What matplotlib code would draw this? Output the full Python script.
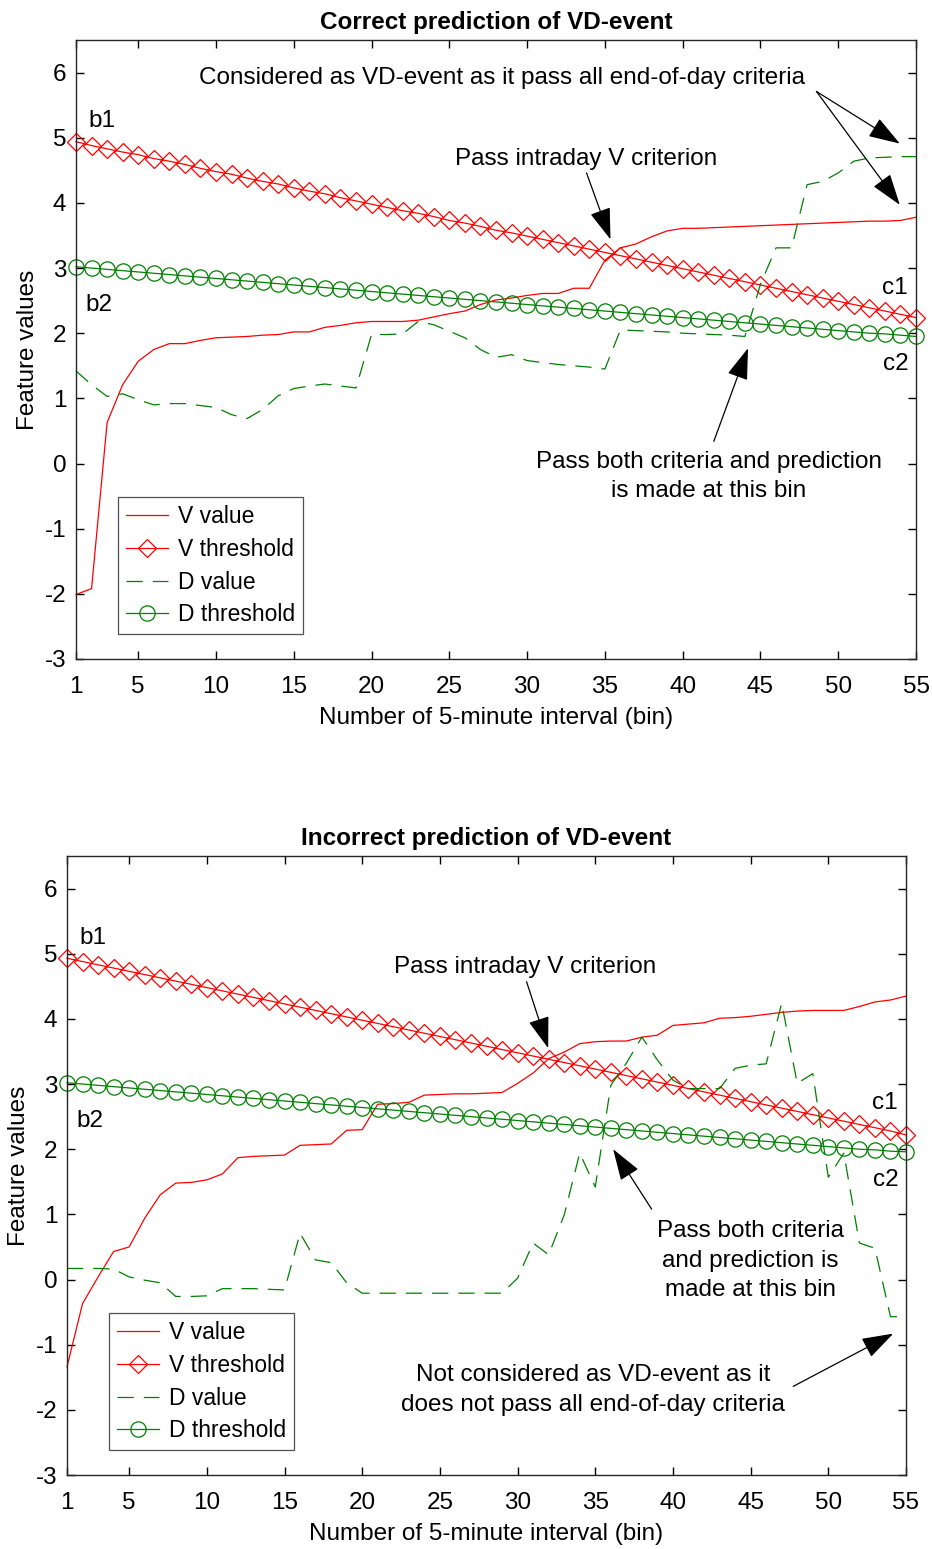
import matplotlib
matplotlib.use("Agg")
import matplotlib.pyplot as plt

plt.rcParams['font.family'] = ['Liberation Sans', 'DejaVu Sans']
plt.rcParams['axes.unicode_minus'] = False

bins = list(range(1, 56))
xticks = [1, 5, 10, 15, 20, 25, 30, 35, 40, 45, 50, 55]
yticks = [-3, -2, -1, 0, 1, 2, 3, 4, 5, 6]

# ---- Top panel: correct prediction ----
top_v_value = [-2.01, -1.92, 0.63, 1.21, 1.57, 1.75, 1.84, 1.84, 1.89, 1.93,
               1.94, 1.95, 1.97, 1.98, 2.02, 2.02, 2.09, 2.12, 2.16, 2.18,
               2.18, 2.18, 2.20, 2.25, 2.30, 2.34, 2.44, 2.51, 2.54, 2.58,
               2.61, 2.61, 2.69, 2.69, 3.12, 3.31, 3.37, 3.48, 3.57, 3.61,
               3.61, 3.62, 3.63, 3.64, 3.65, 3.66, 3.67, 3.68, 3.69, 3.70,
               3.71, 3.72, 3.72, 3.73, 3.78]
top_d_value = [1.42, 1.21, 1.03, 1.07, 0.98, 0.90, 0.92, 0.92, 0.89, 0.86,
               0.75, 0.69, 0.83, 1.04, 1.15, 1.19, 1.22, 1.19, 1.16, 1.98,
               1.98, 1.99, 2.18, 2.13, 2.03, 1.93, 1.75, 1.63, 1.67, 1.58,
               1.55, 1.52, 1.50, 1.48, 1.45, 2.05, 2.04, 2.03, 2.02, 2.00,
               1.99, 1.98, 1.97, 1.95, 2.75, 3.31, 3.31, 4.28, 4.33, 4.46,
               4.64, 4.69, 4.70, 4.71, 4.71]
top_v_thr = [4.94, 4.88, 4.83, 4.78, 4.74, 4.68, 4.64, 4.59, 4.53, 4.48,
             4.44, 4.38, 4.33, 4.29, 4.23, 4.18, 4.14, 4.08, 4.03, 3.98,
             3.93, 3.88, 3.84, 3.79, 3.73, 3.69, 3.64, 3.58, 3.54, 3.49,
             3.44, 3.39, 3.34, 3.29, 3.24, 3.19, 3.14, 3.09, 3.04, 2.99,
             2.94, 2.89, 2.84, 2.79, 2.74, 2.69, 2.64, 2.59, 2.54, 2.49,
             2.44, 2.39, 2.34, 2.29, 2.24]
top_d_thr = [3.02, 3.00, 2.98, 2.96, 2.94, 2.92, 2.90, 2.88, 2.86, 2.84,
             2.82, 2.80, 2.78, 2.76, 2.74, 2.72, 2.70, 2.68, 2.66, 2.64,
             2.62, 2.60, 2.58, 2.56, 2.54, 2.52, 2.50, 2.48, 2.46, 2.44,
             2.42, 2.40, 2.38, 2.36, 2.34, 2.32, 2.30, 2.28, 2.26, 2.24,
             2.22, 2.20, 2.18, 2.16, 2.14, 2.12, 2.10, 2.08, 2.06, 2.04,
             2.02, 2.00, 1.99, 1.97, 1.95]

# ---- Bottom panel: incorrect prediction ----
bot_v_value = [-1.34, -0.37, 0.04, 0.43, 0.50, 0.94, 1.30, 1.48, 1.49, 1.53,
               1.62, 1.87, 1.89, 1.90, 1.91, 2.06, 2.07, 2.08, 2.29, 2.30,
               2.69, 2.70, 2.72, 2.83, 2.84, 2.85, 2.85, 2.86, 2.87, 3.01,
               3.17, 3.39, 3.49, 3.62, 3.65, 3.66, 3.66, 3.72, 3.75, 3.90,
               3.92, 3.94, 4.01, 4.02, 4.04, 4.07, 4.10, 4.12, 4.13, 4.13,
               4.13, 4.19, 4.26, 4.29, 4.35]
bot_d_value = [0.17, 0.17, 0.17, 0.16, 0.04, -0.01, -0.05, -0.26, -0.26, -0.25,
               -0.14, -0.14, -0.14, -0.15, -0.16, 0.71, 0.30, 0.26, -0.05, -0.21,
               -0.21, -0.21, -0.21, -0.21, -0.21, -0.21, -0.21, -0.21, -0.21, 0.02,
               0.56, 0.38, 0.99, 1.94, 1.42, 2.98, 3.32, 3.72, 3.37, 3.06,
               2.93, 2.93, 2.93, 3.24, 3.29, 3.31, 4.24, 3.01, 3.16, 1.57,
               1.94, 0.56, 0.48, -0.57, -0.57]
bot_v_thr = [4.93, 4.88, 4.83, 4.78, 4.73, 4.68, 4.63, 4.58, 4.53, 4.48,
             4.43, 4.38, 4.33, 4.28, 4.23, 4.18, 4.13, 4.08, 4.03, 3.98,
             3.93, 3.88, 3.83, 3.78, 3.73, 3.68, 3.63, 3.58, 3.53, 3.48,
             3.43, 3.38, 3.33, 3.28, 3.23, 3.18, 3.13, 3.08, 3.03, 2.98,
             2.93, 2.88, 2.83, 2.78, 2.73, 2.68, 2.63, 2.58, 2.53, 2.48,
             2.43, 2.38, 2.33, 2.28, 2.22]
bot_d_thr = [3.02, 3.00, 2.98, 2.96, 2.94, 2.92, 2.90, 2.88, 2.86, 2.84,
             2.82, 2.80, 2.78, 2.76, 2.74, 2.72, 2.70, 2.68, 2.66, 2.64,
             2.62, 2.60, 2.58, 2.56, 2.54, 2.52, 2.50, 2.48, 2.46, 2.44,
             2.42, 2.40, 2.38, 2.36, 2.34, 2.32, 2.30, 2.28, 2.26, 2.24,
             2.22, 2.20, 2.18, 2.16, 2.14, 2.12, 2.10, 2.08, 2.06, 2.04,
             2.02, 2.00, 1.99, 1.97, 1.96]

RED = '#ff0000'
GREEN = '#008000'
FS = 17.5

fig = plt.figure(figsize=(9.32, 15.49), dpi=100)
ax1 = fig.add_axes([76/932, 1-659/1549, 840/932, 619/1549])
ax2 = fig.add_axes([67/932, 1-1475/1549, 839/932, 619/1549])


def draw(ax, vv, vt, dv, dt, title):
    ax.plot(bins, vv, color=RED, lw=0.9, label='V value', clip_on=False)
    ax.plot(bins, vt, color=RED, lw=0.9, marker='D', ms=8.8, mfc='none',
            mec=RED, mew=0.9, label='V threshold', clip_on=False)
    ax.plot(bins, dv, color=GREEN, lw=0.9, linestyle=(0, (13, 8)),
            label='D value', clip_on=False)
    ax.plot(bins, dt, color=GREEN, lw=0.9, marker='o', ms=11, mfc='none',
            mec=GREEN, mew=0.9, label='D threshold', clip_on=False)
    ax.set_xlim(1, 55)
    ax.set_ylim(-3, 6.5)
    ax.set_xticks(xticks)
    ax.set_yticks(yticks)
    ax.tick_params(direction='in', length=6, width=1, top=True, right=True,
                   labelsize=FS, pad=7)
    ax.tick_params(axis='x', pad=12)
    for s in ax.spines.values():
        s.set_linewidth(1.0)
        s.set_color('#262626')
    ax.set_xlabel('Number of 5-minute interval (bin)', fontsize=FS, labelpad=7)
    ax.set_ylabel('Feature values', fontsize=FS, labelpad=4)
    ax.set_title(title, fontsize=FS, fontweight='bold', pad=8)
    leg = ax.legend(loc='lower left', bbox_to_anchor=(0.05, 0.04), fontsize=16.5,
                    frameon=True, fancybox=False, edgecolor='#262626',
                    handlelength=1.85, handletextpad=0.4, borderpad=0.35,
                    labelspacing=0.42, borderaxespad=0)
    leg.get_frame().set_linewidth(0.9)


draw(ax1, top_v_value, top_v_thr, top_d_value, top_d_thr,
     'Correct prediction of VD-event')
draw(ax2, bot_v_value, bot_v_thr, bot_d_value, bot_d_thr,
     'Incorrect prediction of VD-event')

AP = dict(arrowstyle='-|>,head_length=0.9,head_width=0.3', mutation_scale=22,
          lw=0.9, color='k', shrinkA=0, shrinkB=0)

# top annotations
ax1.text(1.8, 5.25, 'b1', fontsize=FS, va='center', ha='left')
ax1.text(1.6, 2.44, 'b2', fontsize=FS, va='center', ha='left')
ax1.text(52.8, 2.70, 'c1', fontsize=FS, va='center', ha='left')
ax1.text(52.9, 1.53, 'c2', fontsize=FS, va='center', ha='left')
ax1.text(28.4, 5.92, 'Considered as VD-event as it pass all end-of-day criteria',
         fontsize=FS, ha='center', va='center')
ax1.annotate('', xy=(53.96, 4.91), xytext=(48.6, 5.71), arrowprops=AP)
ax1.annotate('', xy=(53.96, 3.97), xytext=(48.6, 5.71), arrowprops=AP)
ax1.text(33.8, 4.68, 'Pass intraday V criterion', fontsize=FS, ha='center', va='center')
ax1.annotate('', xy=(35.36, 3.44), xytext=(33.82, 4.46), arrowprops=AP)
ax1.text(41.7, -0.2, 'Pass both criteria and prediction\nis made at this bin',
         fontsize=FS, ha='center', va='center', linespacing=1.45)
ax1.annotate('', xy=(44.2, 1.77), xytext=(42.0, 0.34), arrowprops=AP)

# bottom annotations
ax2.text(1.77, 5.24, 'b1', fontsize=FS, va='center', ha='left')
ax2.text(1.58, 2.43, 'b2', fontsize=FS, va='center', ha='left')
ax2.text(52.8, 2.71, 'c1', fontsize=FS, va='center', ha='left')
ax2.text(52.9, 1.53, 'c2', fontsize=FS, va='center', ha='left')
ax2.text(30.5, 4.79, 'Pass intraday V criterion', fontsize=FS, ha='center', va='center')
ax2.annotate('', xy=(31.97, 3.55), xytext=(30.58, 4.57), arrowprops=AP)
ax2.text(45.0, 0.29, 'Pass both criteria\nand prediction is\nmade at this bin',
         fontsize=FS, ha='center', va='center', linespacing=1.45)
ax2.annotate('', xy=(36.15, 2.0), xytext=(38.63, 1.08), arrowprops=AP)
ax2.text(34.85, -1.70, 'Not considered as VD-event as it\ndoes not pass all end-of-day criteria',
         fontsize=FS, ha='center', va='center', linespacing=1.45)
ax2.annotate('', xy=(54.18, -0.83), xytext=(47.74, -1.64), arrowprops=AP)

fig.savefig('out.png', dpi=100, facecolor='white')
